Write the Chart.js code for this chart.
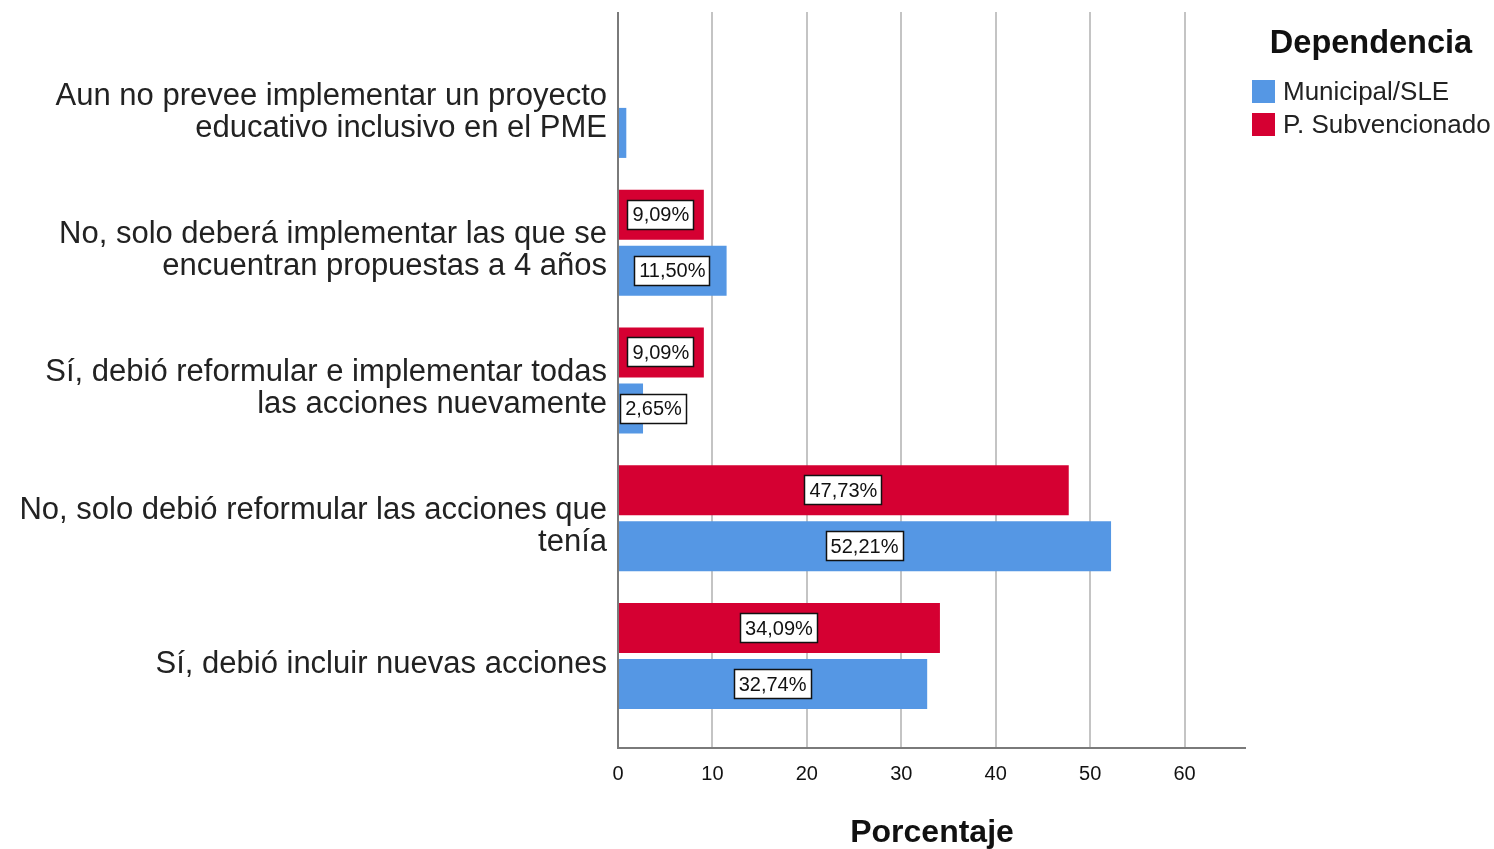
<!DOCTYPE html>
<html>
<head>
<meta charset="utf-8">
<script src="https://cdn.jsdelivr.net/npm/chart.js@4/dist/chart.umd.min.js"></script>
<style>
  html, body { margin: 0; padding: 0; background: #fff; }
  #wrap { position: relative; width: 1494px; height: 849px; }
</style>
</head>
<body>
<div id="wrap"><canvas id="grafico"></canvas></div>
<script>
// Datos
const categorias = [
  ['Aun no prevee implementar un proyecto', 'educativo inclusivo en el PME'],
  ['No, solo deberá implementar las que se', 'encuentran propuestas a 4 años'],
  ['Sí, debió reformular e implementar todas', 'las acciones nuevamente'],
  ['No, solo debió reformular las acciones que', 'tenía'],
  ['Sí, debió incluir nuevas acciones']
];
const subvencionado = [0, 9.09, 9.09, 47.73, 34.09];
const municipal = [0.88, 11.50, 2.65, 52.21, 32.74];
const ticksX = [0, 10, 20, 30, 40, 50, 60];

const AZUL = '#5597e4';
const ROJO = '#d50032';
const FUENTE = '"Liberation Sans", Arial, sans-serif';

// Rejilla y ejes (se extienden más allá del área de las barras, como en SPSS)
const rejilla = {
  id: 'rejilla',
  beforeDatasetsDraw(chart) {
    const { ctx, chartArea: a, scales: { x } } = chart;
    const top = a.top - 24, bottom = a.bottom + 23;
    ctx.save();
    ctx.strokeStyle = '#c4c4c4';
    ctx.lineWidth = 2;
    x.ticks.forEach(t => {
      if (t.value === 0) return;
      const px = Math.round(x.getPixelForValue(t.value));
      ctx.beginPath();
      ctx.moveTo(px, top);
      ctx.lineTo(px, bottom);
      ctx.stroke();
    });
    ctx.restore();
  },
  afterDatasetsDraw(chart) {
    const { ctx, chartArea: a } = chart;
    const top = a.top - 24, bottom = a.bottom + 23;
    ctx.save();
    ctx.strokeStyle = '#7a7a7a';
    ctx.lineWidth = 2;
    ctx.beginPath();
    ctx.moveTo(a.left, top);
    ctx.lineTo(a.left, bottom);
    ctx.lineTo(a.right, bottom);
    ctx.stroke();
    ctx.restore();
  }
};

// Etiquetas con recuadro blanco sobre las barras
const etiquetas = {
  id: 'etiquetas',
  afterDatasetsDraw(chart) {
    const ctx = chart.ctx;
    ctx.save();
    ctx.font = '20px ' + FUENTE;
    ctx.textAlign = 'center';
    ctx.textBaseline = 'middle';
    chart.data.datasets.forEach((ds, i) => {
      chart.getDatasetMeta(i).data.forEach((bar, j) => {
        const v = ds.data[j];
        if (v < 1) return;
        const txt = v.toFixed(2).replace('.', ',') + '%';
        const w = Math.round(ctx.measureText(txt).width + 10);
        const h = 30;
        let cx = (bar.x + bar.base) / 2;
        cx = Math.max(cx, bar.base + 2 + w / 2);
        const bx = Math.round(cx - w / 2), by = Math.round(bar.y - h / 2);
        ctx.fillStyle = '#fff';
        ctx.fillRect(bx, by, w, h);
        ctx.strokeStyle = '#111';
        ctx.lineWidth = 1.5;
        ctx.strokeRect(bx + 0.5, by + 0.5, w - 1, h - 1);
        ctx.fillStyle = '#111';
        ctx.fillText(txt, cx, bar.y + 1);
      });
    });
    ctx.restore();
  }
};

// Leyenda a la derecha
const leyenda = {
  id: 'leyenda',
  afterDraw(chart) {
    const { ctx, chartArea: a } = chart;
    ctx.save();
    ctx.fillStyle = '#111';
    ctx.font = 'bold 32.5px ' + FUENTE;
    ctx.textAlign = 'center';
    ctx.textBaseline = 'middle';
    ctx.fillText('Dependencia', a.right + 125, a.top + 8);
    ctx.font = '26px ' + FUENTE;
    ctx.textAlign = 'left';
    const items = chart.data.datasets.slice().reverse();
    items.forEach((ds, k) => {
      const cy = a.top + 56 + k * 33;
      ctx.fillStyle = ds.backgroundColor;
      ctx.fillRect(a.right + 6, cy - 12, 23, 23);
      ctx.fillStyle = '#222';
      ctx.fillText(ds.label, a.right + 37, cy + 1);
    });
    ctx.restore();
  }
};

new Chart(document.getElementById('grafico'), {
  type: 'bar',
  data: {
    labels: categorias,
    datasets: [
      { label: 'P. Subvencionado', data: subvencionado, backgroundColor: ROJO, borderWidth: 0 },
      { label: 'Municipal/SLE', data: municipal, backgroundColor: AZUL, borderWidth: 0 }
    ]
  },
  options: {
    indexAxis: 'y',
    responsive: true,
    maintainAspectRatio: false,
    animation: false,
    layout: { padding: { top: 36, right: 248, bottom: 0, left: 0 } },
    datasets: {
      bar: { categoryPercentage: 0.813, barPercentage: 0.893 }
    },
    plugins: {
      legend: { display: false },
      tooltip: { enabled: false }
    },
    scales: {
      x: {
        type: 'linear',
        min: 0,
        max: 66.5,
        grid: { display: false },
        border: { display: false },
        afterFit: s => { s.height = 124; },
        afterBuildTicks: s => { s.ticks = ticksX.map(v => ({ value: v })); },
        ticks: {
          padding: 29,
          color: '#111',
          font: { family: FUENTE, size: 20 }
        },
        title: {
          display: true,
          text: 'Porcentaje',
          color: '#111',
          padding: { top: 0, bottom: -3 },
          font: { family: FUENTE, size: 32, weight: 'bold' }
        }
      },
      y: {
        grid: { display: false },
        border: { display: false },
        afterFit: s => { s.width = 618; },
        ticks: {
          padding: 3,
          labelOffset: 8,
          color: '#222',
          font: { family: FUENTE, size: 31, lineHeight: 32 / 31 }
        }
      }
    }
  },
  plugins: [rejilla, etiquetas, leyenda]
});
</script>
</body>
</html>
